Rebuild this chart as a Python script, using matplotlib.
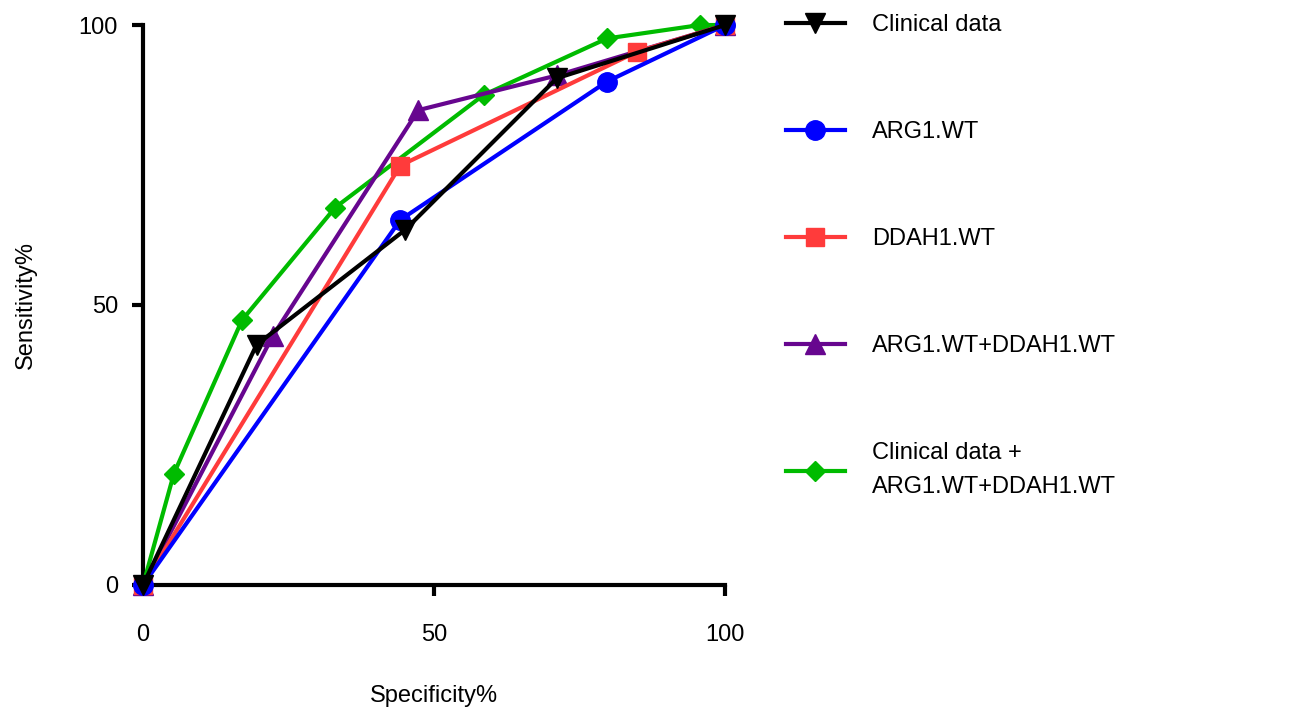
import matplotlib
matplotlib.use("Agg")
import matplotlib.pyplot as plt

plt.rcParams["font.family"] = ["Liberation Sans", "DejaVu Sans"]

# ROC points (specificity %, sensitivity %)
clin_x = [0, 19.5, 45.0, 71.1, 100]
clin_y = [0, 42.9, 63.4, 90.5, 100]
arg_x = [0, 44.2, 79.7, 100]
arg_y = [0, 65.2, 89.9, 100]
ddah_x = [0, 44.2, 84.8, 100]
ddah_y = [0, 74.9, 95.2, 100]
combo_x = [0, 22.3, 47.3, 71.1, 100]
combo_y = [0, 44.5, 84.8, 91.0, 100]
all_x = [0, 5.3, 17.0, 33.0, 58.5, 79.7, 95.7, 100]
all_y = [0, 19.9, 47.3, 67.4, 87.5, 97.6, 100, 100]

labels = ["Clinical data", "ARG1.WT", "DDAH1.WT", "ARG1.WT+DDAH1.WT",
          "Clinical data +\nARG1.WT+DDAH1.WT"]
colors = ["#000000", "#0000FF", "#FF3B3B", "#67068F", "#00BB00"]
markers = ["v", "o", "s", "^", "D"]
msizes = [14, 14, 13, 14, 10]

series = [(clin_x, clin_y), (arg_x, arg_y), (ddah_x, ddah_y),
          (combo_x, combo_y), (all_x, all_y)]


def main():
    fig = plt.figure(figsize=(12.89, 7.07), dpi=100)
    ax = fig.add_axes([0.111, 0.1726, 0.4515, 0.792])

    handles = []
    for i, (xs, ys) in enumerate(series):
        h, = ax.plot(xs, ys, color=colors[i], marker=markers[i],
                     markersize=msizes[i], linewidth=3, label=labels[i],
                     clip_on=False, zorder=10 - i)
        handles.append(h)

    ax.set_xlim(0, 100)
    ax.set_ylim(0, 100)
    ax.set_xticks([0, 50, 100])
    ax.set_yticks([0, 50, 100])
    for s in ["top", "right"]:
        ax.spines[s].set_visible(False)
    for s in ["left", "bottom"]:
        ax.spines[s].set_linewidth(3)
    ax.tick_params(axis="both", width=3, length=8, labelsize=17)
    ax.tick_params(axis="x", pad=20)
    ax.tick_params(axis="y", pad=10)

    ax.set_xlabel("Specificity%", fontsize=17, labelpad=28)
    ax.set_ylabel("Sensitivity%", fontsize=17, labelpad=30)

    leg = ax.legend(handles=handles, loc="upper left",
                    bbox_to_anchor=(1.088, 1.036), frameon=False, fontsize=17,
                    handlelength=2.5, handletextpad=1.15, labelspacing=3.6,
                    borderaxespad=0)
    for t in leg.get_texts():
        t.set_linespacing(1.7)

    plt.savefig("out.png", dpi=100)
    plt.close()


if __name__ == "__main__":
    main()
